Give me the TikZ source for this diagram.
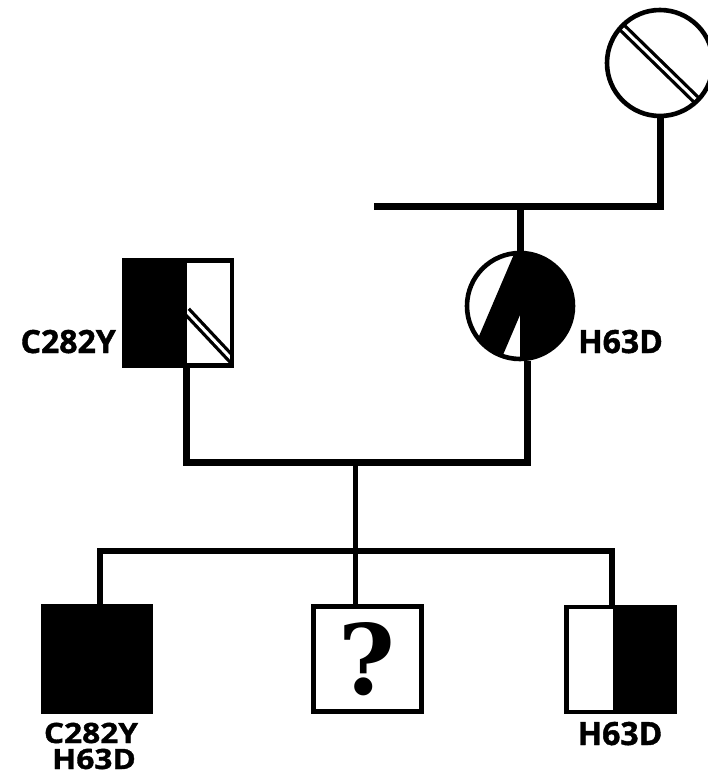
\documentclass[tikz,border=0pt]{standalone}
\usepackage{fontspec}
\setmainfont{Open Sans}[BoldFeatures={FakeBold=1.3}]
\newfontfamily\qfont{DejaVu Serif}
\begin{document}
\begin{tikzpicture}[x=1pt,y=-1pt,
  ind/.style={draw, line width=4.6pt, inner sep=0pt, fill=white},
  male/.style={ind, rectangle, minimum width=108pt, minimum height=105pt},
  female/.style={ind, circle, minimum size=106pt},
  dbl/.style={draw=black, line width=3.3pt, double=white, double distance=3pt},
  rel/.style={line width=7pt},
  sib/.style={line width=6pt},
  lbl/.style={inner sep=0pt, font=\bfseries\fontsize{32}{32}\selectfont},
  lbls/.style={inner sep=0pt, font=\bfseries\fontsize{28}{28}\selectfont\addfontfeatures{FakeStretch=1.13}},
  qmark/.style={font=\qfont\bfseries\fontsize{97}{97}\selectfont}]
\useasboundingbox (0,0) rectangle (707,776);

% individuals
\node[female, path picture={\draw[dbl, shift={(path picture bounding box.center)}] (-60,-57) -- (60,60);}] (gm) at (660,63) {};
\node[female, path picture={\fill[black, shift={(path picture bounding box.center)}] (0,-66) -- (70,-66) -- (70,70) -- (0,70) -- (0,9) -- (-26,70) -- (-58,70) -- cycle;}] (mom) at (520,306) {};
\node[male, path picture={\begin{scope}[shift={(path picture bounding box.center)}]
    \draw[dbl] (8.5,-2) -- (62,55);
    \fill[black] (-70,-70) rectangle (8.5,70);
  \end{scope}}] (dad) at (178,313) {};
\node[male, fill=black] (c1) at (97,659) {};
\node[male, line width=5pt, qmark] (c2) at (367,659) {\raisebox{-4pt}{?}};
\node[male, path picture={\fill[black, shift={(path picture bounding box.center)}] (-7.5,-70) rectangle (70,70);}] (c3) at (620.5,659.5) {};

% connectors
\coordinate (tl) at (374,206);
\draw[rel] (tl) -| (gm.south);
\draw[rel] (mom.north) -- (mom.north |- tl);
\coordinate (pb) at (355,462);
\draw[rel] ([xshift=8pt]dad.south) |- (pb) -| ([xshift=7pt]mom.south);
\draw[line width=5pt] (pb) -- (pb |- c2.north);
\coordinate (sb) at (355,551);
\draw[sib] ([xshift=3pt]c1.north) |- (sb) -| ([xshift=-8.5pt]c3.north);

% labels
\node[lbl, anchor=base east] (l1) at (116,353) {C282Y};
\node[lbl, anchor=base west] (l2) at (578,353) {H63D};
\node[lbls, anchor=base] (l3) at (91,743) {C282Y};
\node[lbls, anchor=base] (l4) at (94,769) {H63D};
\node[lbl, anchor=base] (l5) at (620,745) {H63D};
\end{tikzpicture}
\end{document}
